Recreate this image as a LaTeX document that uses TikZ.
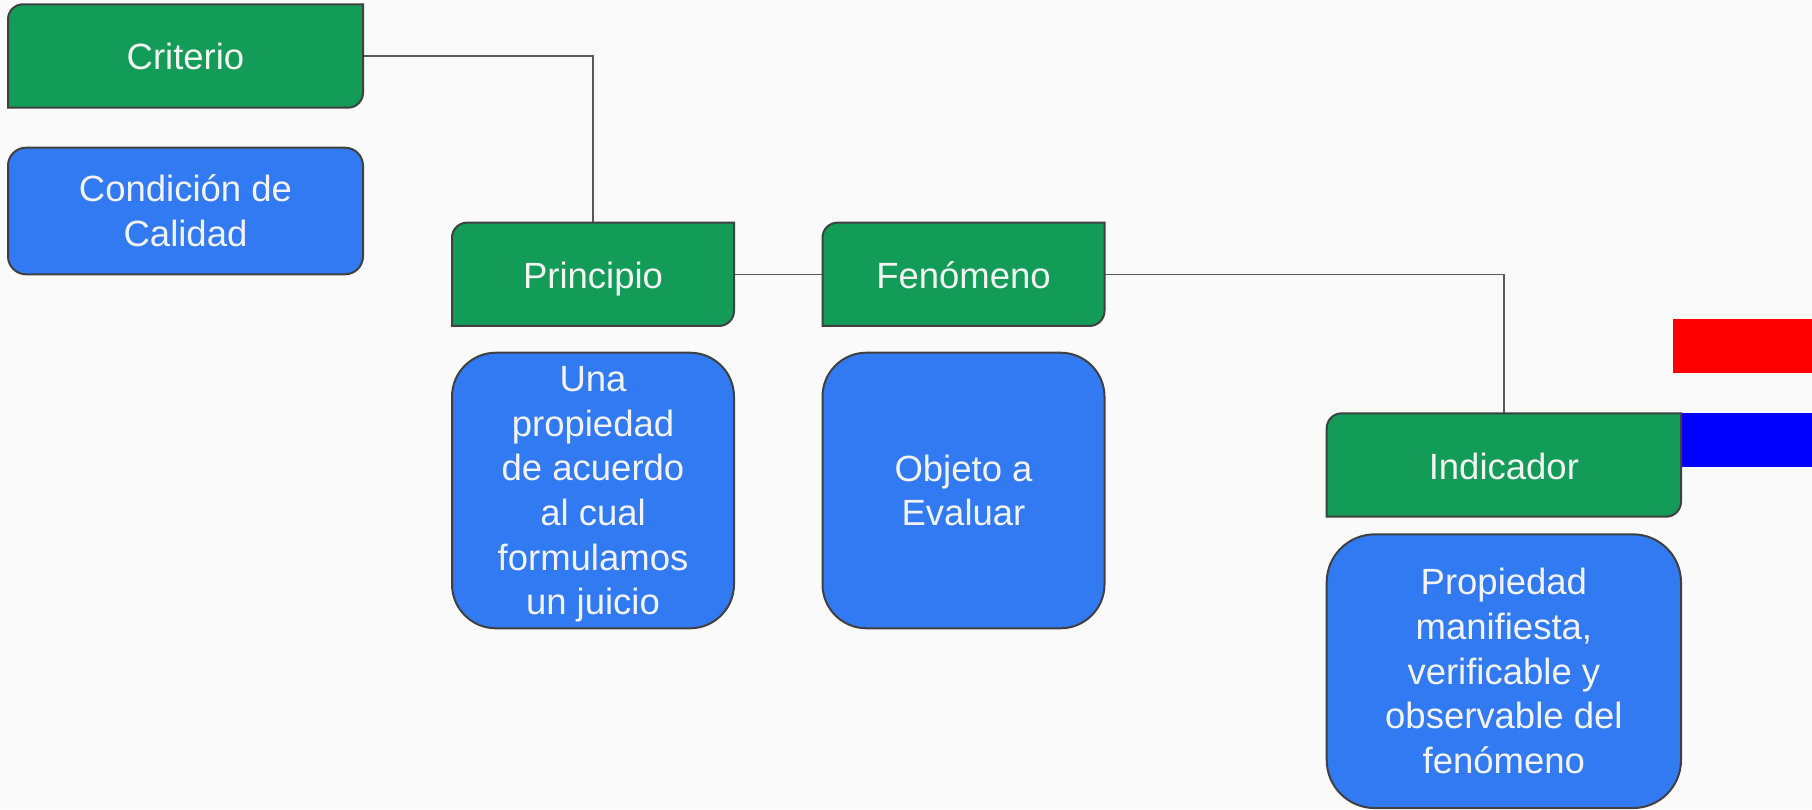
\documentclass[tikz,border=0pt]{standalone}
\usepackage{fontspec}
\setmainfont{Liberation Sans}
\definecolor{pagebg}{HTML}{FAFAFA}
\definecolor{gfill}{HTML}{129C58}
\definecolor{bfill}{HTML}{327AF2}
\definecolor{edge}{HTML}{404040}
\definecolor{wire}{HTML}{595959}
\definecolor{txt}{HTML}{F3F3F3}
\pgfdeclarelayer{pagelayer}
\pgfdeclarelayer{boxlayer}
\pgfsetlayers{pagelayer,boxlayer,main}
\tikzset{
  gnode/.style={shape=rectangle, inner sep=0pt, outer sep=0pt, text=txt, align=center,
                text height=36pt, text depth=8pt,
                font=\fontsize{36.5}{44.7}\selectfont},
  gshape/.style={fill=gfill, draw=edge, line width=2pt},
  bbox/.style={shape=rectangle, inner sep=0pt, outer sep=0pt, fill=bfill, draw=edge,
               line width=2pt, text=txt, align=center, font=\fontsize{36.5}{44.7}\selectfont},
  wireline/.style={draw=wire, line width=1.4pt},
}
\newcommand\diagshape[1]{%
  \path[gshape] (#1.south west) -- ([yshift=-15pt]#1.north west)
    arc[start angle=180, end angle=90, radius=15pt] -- (#1.north east)
    -- ([yshift=15pt]#1.south east)
    arc[start angle=0, end angle=-90, radius=15pt] -- cycle;}
\newcommand\nodepth[1]{\raisebox{0pt}[\height][0pt]{#1}}
\begin{document}
\begin{tikzpicture}[x=1pt,y=1pt]
\useasboundingbox (0,0) rectangle (1812,809);
\begin{pgfonlayer}{pagelayer}
  \fill[pagebg] (0,0) rectangle (1812,809);
\end{pgfonlayer}

% green title nodes
\node[gnode, minimum width=355pt, minimum height=103.4pt] (crit) at (185.5,753) {Criterio};
\node[gnode, minimum width=282pt, minimum height=103.3pt] (prin) at (593,534.7) {Principio};
\node[gnode, minimum width=282pt, minimum height=103.3pt] (fen) at (963.5,534.7) {Fenómeno};
\node[gnode, minimum width=354.3pt, minimum height=103.4pt, text height=37pt, text depth=7pt] (ind) at (1503.85,344) {Indicador};

% blue description boxes
\node[bbox, rounded corners=18pt, minimum width=355pt, minimum height=126.6pt] (cond) at (185.5,598) {Condición de\\Calidad};
\node[bbox, rounded corners=44pt, minimum width=282pt, minimum height=275.6pt] (prinb) at (593,318.5) {Una\\propiedad\\de acuerdo\\al cual\\formulamos\\\nodepth{un juicio}};
\node[bbox, rounded corners=44pt, minimum width=282pt, minimum height=275.6pt] (fenb) at (963.5,318.5) {Objeto a\\Evaluar};
\node[bbox, rounded corners=48pt, minimum width=354.3pt, minimum height=273.7pt] (indb) at (1503.85,137.8) {Propiedad\\manifiesta,\\verificable y\\observable del\\fenómeno};

\begin{pgfonlayer}{boxlayer}
  % coloured bars on the right
  \fill[red] (1673,436.3) rectangle (1812,490);
  \fill[blue] (1681,342.3) rectangle (1812,395.7);
  % connectors
  \draw[wireline] (crit.east) -| (prin.north);
  \draw[wireline] (prin.east) -- (fen.west);
  \draw[wireline] (fen.east) -| (ind.north);
  % green shapes
  \diagshape{crit}
  \diagshape{prin}
  \diagshape{fen}
  \diagshape{ind}
\end{pgfonlayer}
\end{tikzpicture}
\end{document}
